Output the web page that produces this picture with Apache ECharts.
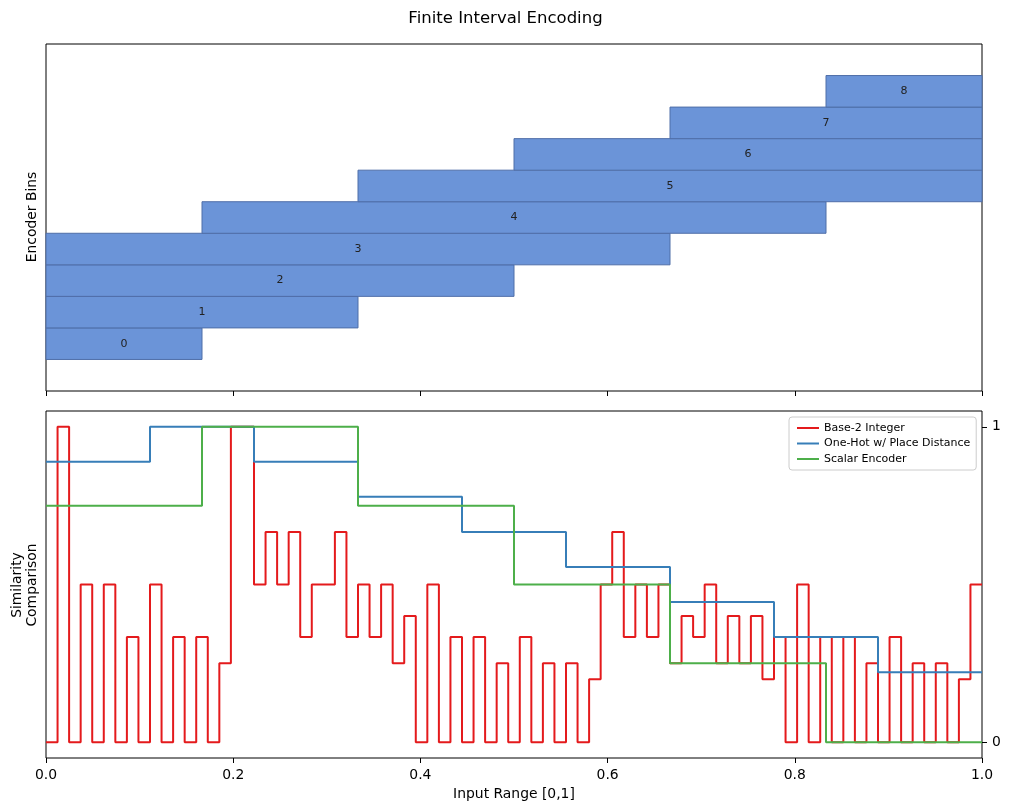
<!DOCTYPE html>
<html>
<head>
<meta charset="utf-8">
<script src="https://cdn.jsdelivr.net/npm/echarts@6/dist/echarts.min.js"></script>
<style>
  html, body { margin: 0; padding: 0; background: #fff; }
  #chart { width: 1011px; height: 811px; }
</style>
</head>
<body>
<div id="chart"></div>
<script>
// top panel: encoder bins
const binLabels = ['0', '1', '2', '3', '4', '5', '6', '7', '8'];
const binStart = [0, 0, 0, 0, 1/6, 1/3, 1/2, 2/3, 5/6];
const binEnd = [1/6, 1/3, 1/2, 2/3, 5/6, 1, 1, 1, 1];

// bottom panel: similarity curves (step functions)
const base2Sim = [
  0, 1, 0, 0.5, 0, 0.5, 0, 1/3, 0, 0.5,
  0, 1/3, 0, 1/3, 0, 0.25, 1, 1, 0.5, 2/3,
  0.5, 2/3, 1/3, 0.5, 0.5, 2/3, 1/3, 0.5, 1/3, 0.5,
  0.25, 0.4, 0, 0.5, 0, 1/3, 0, 1/3, 0, 0.25,
  0, 1/3, 0, 0.25, 0, 0.25, 0, 0.2, 0.5, 2/3,
  1/3, 0.5, 1/3, 0.5, 0.25, 0.4, 1/3, 0.5, 0.25, 0.4,
  0.25, 0.4, 0.2, 1/3, 0, 0.5, 0, 1/3, 0, 1/3,
  0, 0.25, 0, 1/3, 0, 0.25, 0, 0.25, 0, 0.2,
  0.5
];
const oneHotEdges = [0, 1/9, 2/9, 3/9, 4/9, 5/9, 6/9, 7/9, 8/9, 1];
const oneHotSim = [8/9, 1, 8/9, 7/9, 6/9, 5/9, 4/9, 3/9, 2/9];
const scalarEdges = [0, 1/6, 1/3, 1/2, 2/3, 5/6, 1];
const scalarSim = [0.75, 1, 0.75, 0.5, 0.25, 0];
const seriesNames = ['Base-2 Integer', 'One-Hot w/ Place Distance', 'Scalar Encoder'];
const seriesColors = ['#e41a1c', '#377eb8', '#4daf4a'];

const FONT = 'DejaVu Sans';

function stepData(edges, vals) {
  const pts = vals.map((v, i) => [edges[i], v]);
  pts.push([edges[edges.length - 1], vals[vals.length - 1]]);
  return pts;
}
const base2Edges = [];
for (let k = 0; k <= base2Sim.length; k++) base2Edges.push(k / base2Sim.length);

const binData = binLabels.map((l, i) => [binStart[i], binEnd[i], i]);

const chart = echarts.init(document.getElementById('chart'), null, { renderer: 'canvas' });

const option = {
  animation: false,
  backgroundColor: '#fff',
  textStyle: { fontFamily: FONT },
  title: {
    text: 'Finite Interval Encoding',
    left: 'center',
    top: 5,
    textStyle: { fontFamily: FONT, fontSize: 16.5, fontWeight: 'normal', color: '#000' }
  },
  legend: {
    orient: 'vertical',
    left: 789,
    top: 417,
    data: seriesNames,
    icon: 'rect',
    itemWidth: 22,
    itemHeight: 2,
    itemGap: 3.5,
    padding: [5, 6, 5, 8],
    borderColor: '#cccccc',
    borderWidth: 1,
    borderRadius: 3,
    backgroundColor: 'rgba(255,255,255,0.8)',
    textStyle: { fontFamily: FONT, fontSize: 11, color: '#000', lineHeight: 12 }
  },
  grid: [
    { left: 46, right: 29, top: 44, height: 347, show: true, borderColor: '#000', borderWidth: 1 },
    { left: 46, right: 29, top: 411, height: 347, show: true, borderColor: '#000', borderWidth: 1 }
  ],
  xAxis: [
    {
      gridIndex: 0, type: 'value', min: 0, max: 1, interval: 0.2, position: 'bottom',
      axisLine: { show: false, onZero: false },
      axisTick: { show: true, length: 5, lineStyle: { color: '#000' } },
      axisLabel: { show: false },
      splitLine: { show: false }
    },
    {
      gridIndex: 1, type: 'value', min: 0, max: 1, interval: 0.2, position: 'bottom',
      name: 'Input Range [0,1]', nameLocation: 'middle', nameGap: 29,
      nameTextStyle: { fontFamily: FONT, fontSize: 13.9, color: '#000' },
      axisLine: { show: false, onZero: false },
      axisTick: { show: true, length: 5, lineStyle: { color: '#000' } },
      axisLabel: { fontFamily: FONT, fontSize: 13.9, color: '#000', margin: 10, formatter: v => v.toFixed(1) },
      splitLine: { show: false }
    }
  ],
  yAxis: [
    {
      gridIndex: 0, type: 'value', min: -1.5, max: 9.5,
      axisLine: { show: false, onZero: false }, axisTick: { show: false }, axisLabel: { show: false },
      splitLine: { show: false }
    },
    {
      gridIndex: 1, type: 'value', min: -0.05, max: 1.05, position: 'right',
      axisLine: { show: false, onZero: false },
      axisTick: { show: true, length: 5, lineStyle: { color: '#000' }, customValues: [0, 1] },
      axisLabel: { fontFamily: FONT, fontSize: 13.9, color: '#000', margin: 10, customValues: [0, 1] },
      splitLine: { show: false }
    }
  ],
  graphic: [
    {
      type: 'text', x: 32, y: 217, rotation: Math.PI / 2,
      style: { text: 'Encoder Bins', font: '13.9px "DejaVu Sans"', fill: '#000',
               align: 'center', verticalAlign: 'middle', textAlign: 'center', textVerticalAlign: 'middle' }
    },
    {
      type: 'text', x: 25, y: 585, rotation: Math.PI / 2,
      style: { text: 'Similarity\nComparison', font: '13.9px "DejaVu Sans"', fill: '#000', lineHeight: 15,
               align: 'center', verticalAlign: 'middle', textAlign: 'center', textVerticalAlign: 'middle' }
    }
  ],
  series: [
    {
      type: 'custom',
      xAxisIndex: 0, yAxisIndex: 0,
      data: binData,
      encode: { x: [0, 1], y: 2 },
      renderItem: function (params, api) {
        const s = api.value(0), e = api.value(1), i = api.value(2);
        const p0 = api.coord([s, i + 0.5]);
        const p1 = api.coord([e, i - 0.5]);
        return {
          type: 'group',
          children: [
            {
              type: 'rect',
              shape: { x: p0[0], y: p0[1], width: p1[0] - p0[0], height: p1[1] - p0[1] },
              style: { fill: '#6b94d8', stroke: '#4f6ea8', lineWidth: 1 }
            },
            {
              type: 'text',
              x: (p0[0] + p1[0]) / 2, y: (p0[1] + p1[1]) / 2,
              style: { text: binLabels[i], font: '11px "DejaVu Sans"', fill: '#222',
                       align: 'center', verticalAlign: 'middle', textAlign: 'center', textVerticalAlign: 'middle' }
            }
          ]
        };
      }
    },
    {
      name: seriesNames[0], type: 'line', step: 'end', xAxisIndex: 1, yAxisIndex: 1,
      data: stepData(base2Edges, base2Sim), symbol: 'none',
      color: seriesColors[0], lineStyle: { width: 2, color: seriesColors[0] }
    },
    {
      name: seriesNames[1], type: 'line', step: 'end', xAxisIndex: 1, yAxisIndex: 1,
      data: stepData(oneHotEdges, oneHotSim), symbol: 'none',
      color: seriesColors[1], lineStyle: { width: 2, color: seriesColors[1] }
    },
    {
      name: seriesNames[2], type: 'line', step: 'end', xAxisIndex: 1, yAxisIndex: 1,
      data: stepData(scalarEdges, scalarSim), symbol: 'none',
      color: seriesColors[2], lineStyle: { width: 2, color: seriesColors[2] }
    }
  ]
};

chart.setOption(option);
</script>
</body>
</html>
